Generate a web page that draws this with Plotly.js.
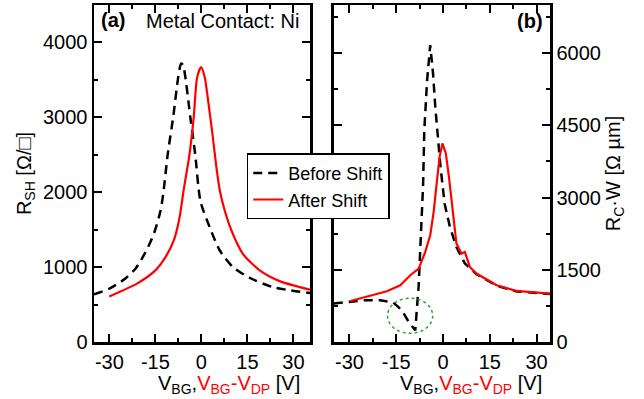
<!DOCTYPE html>
<html>
<head>
<meta charset="utf-8">
<script src="https://cdn.plot.ly/plotly-3.0.1.min.js"></script>
<style>html,body{margin:0;padding:0;background:#fff}#chart{width:644px;height:399px}</style>
</head>
<body>
<div id="chart"></div>
<script>
// Panel (a): sheet resistance R_SH
const aBeforeX = [-35, -30, -25, -21.5, -18.2, -15.5, -13.3, -12.3, -11.0, -9.2, -7.5, -6.6, -6.0, -3.6, -2.0, -0.3, 2.7, 6.0, 10.3, 15.7, 23.3, 35.4];
const aBeforeY = [636, 712, 840, 978, 1200, 1445, 1756, 2023, 2500, 3000, 3550, 3720, 3700, 3000, 2500, 1880, 1533, 1222, 1000, 858, 733, 653];
const aAfterX = [-30, -21, -15, -11.7, -9.0, -7.1, -5.8, -3.9, -2.5, -1.4, -0.1, 1.1, 2.2, 3.6, 4.9, 6.0, 7.6, 9.8, 13.5, 19.0, 25.5, 35.4];
const aAfterY = [609, 779, 956, 1133, 1356, 1667, 2023, 2500, 3000, 3530, 3670, 3533, 3222, 2778, 2333, 2023, 1756, 1489, 1178, 956, 813, 698];

// Panel (b): contact resistance R_C·W
const bBeforeX = [-35, -30.9, -25.5, -20.1, -15.9, -13.2, -11.0, -8.9, -8.4, -7.8, -7.1, -6.4, -6.0, -5.1, -4.1, -3.2, -2.5, -1.6, -0.9, 0.5, 2.2, 4.3, 7.0, 10.7, 17.2, 23.6, 34.3];
const bBeforeY = [798, 832, 867, 867, 819, 659, 416, 243, 624, 1179, 2218, 3240, 4401, 5441, 6168, 5580, 4900, 4200, 3700, 2877, 2391, 1975, 1630, 1410, 1170, 1050, 995];
const bAfterX = [-30, -24.4, -18, -13.7, -10.5, -7.8, -5.7, -4.1, -3.0, -2.1, -1.1, -0.2, 0.9, 1.9, 3.0, 4.3, 5.9, 7.0, 8.6, 10.7, 17.2, 23.6, 34.3];
const bAfterY = [846, 936, 1054, 1179, 1387, 1526, 1871, 2218, 2703, 3258, 3846, 4125, 3916, 3430, 2807, 2046, 1838, 1871, 1559, 1422, 1179, 1060, 1006];

// Tick labels
const xTickVals = [-30, -15, 0, 15, 30];
const xTickText = ["-30", "-15", "0", "15", "30"];
const yaTickVals = [0, 1000, 2000, 3000, 4000];
const yaTickText = ["0", "1000", "2000", "3000", "4000"];
const ybTickVals = [0, 1500, 3000, 4500, 6000];
const ybTickText = ["0", "1500", "3000", "4500", "6000"];

// Highlight ellipse (panel b) in data units
const ellipseX = [-17.8, -3.3];
const ellipseY = [180, 910];

const FONT = "Liberation Sans, Arial, Helvetica, sans-serif";
const RED = "#ff0000";
const FS = 20;

const blackLine = {color: "#000000", width: 2.5, dash: "9px,6px"};
const redLine = {color: RED, width: 2.2};

const traces = [
  {x: aBeforeX, y: aBeforeY, xaxis: "x", yaxis: "y", mode: "lines", line: Object.assign({shape: "spline", smoothing: 0.7}, blackLine), name: "Before Shift", showlegend: true},
  {x: aAfterX, y: aAfterY, xaxis: "x", yaxis: "y", mode: "lines", line: Object.assign({shape: "spline", smoothing: 0.7}, redLine), name: "After Shift", showlegend: true},
  {x: bBeforeX, y: bBeforeY, xaxis: "x2", yaxis: "y2", mode: "lines", line: blackLine, name: "Before Shift", showlegend: false},
  {x: bAfterX, y: bAfterY, xaxis: "x2", yaxis: "y2", mode: "lines", line: redLine, name: "After Shift", showlegend: false}
];

function axisBase() {
  return {
    showline: true, linecolor: "#000", linewidth: 2.5, mirror: "allticks",
    ticks: "inside", ticklen: 8, tickwidth: 2, tickcolor: "#000",
    showgrid: false, zeroline: false,
    tickfont: {family: FONT, size: FS, color: "#000"},
    tickmode: "array"
  };
}
function minor(d) {
  return {tickmode: "linear", tick0: 0, dtick: d, ticks: "inside", ticklen: 4, tickwidth: 2, tickcolor: "#000"};
}

const xa = Object.assign(axisBase(), {domain: [0, 0.4737], range: [-35, 35.4], tickvals: xTickVals, ticktext: xTickText, anchor: "y", minor: minor(7.5)});
const xb = Object.assign(axisBase(), {domain: [0.526, 1], range: [-35, 34.3], tickvals: xTickVals, ticktext: xTickText, anchor: "y2", minor: minor(7.5)});
const ya = Object.assign(axisBase(), {range: [0, 4500], tickvals: yaTickVals, ticktext: yaTickText, anchor: "x", minor: minor(500),
  title: {text: "R<sub>SH</sub> [Ω/□]", font: {family: FONT, size: FS, color: "#000"}, standoff: 6}});
const yb = Object.assign(axisBase(), {range: [0, 7000], tickvals: ybTickVals, ticktext: ybTickText, anchor: "x2", side: "right", minor: minor(750),
  title: {text: "R<sub>C</sub>·W [Ω µm]", font: {family: FONT, size: FS, color: "#000"}, standoff: 6}});

const xTitle = 'V<sub>BG</sub>,<span style="color:' + RED + '">V<sub>BG</sub>-V<sub>DP</sub></span> [V]';

const layout = {
  width: 644, height: 399,
  margin: {l: 94, r: 94, t: 5, b: 57, pad: 0},
  paper_bgcolor: "#fff", plot_bgcolor: "#fff",
  font: {family: FONT, size: FS, color: "#000"},
  xaxis: xa, yaxis: ya, xaxis2: xb, yaxis2: yb,
  showlegend: true,
  legend: {x: 0.335, y: 0.5596, xanchor: "left", yanchor: "top", bgcolor: "#fff", bordercolor: "#000", borderwidth: 1.5,
    font: {family: FONT, size: 18, color: "#000"}, traceorder: "normal", itemwidth: 30, tracegroupgap: 0},
  shapes: [
    {type: "circle", xref: "x2", yref: "y2", x0: ellipseX[0], x1: ellipseX[1], y0: ellipseY[0], y1: ellipseY[1],
      line: {color: "#2ca02c", width: 1.5, dash: "dot"}}
  ],
  annotations: [
    {text: "<b>(a)</b>", xref: "paper", yref: "paper", x: 0.01, y: 0.995, xanchor: "left", yanchor: "top", showarrow: false, font: {family: FONT, size: FS, color: "#000"}},
    {text: "Metal Contact: Ni", xref: "paper", yref: "paper", x: 0.455, y: 0.99, xanchor: "right", yanchor: "top", showarrow: false, font: {family: FONT, size: FS, color: "#000"}},
    {text: "<b>(b)</b>", xref: "paper", yref: "paper", x: 0.99, y: 0.99, xanchor: "right", yanchor: "top", showarrow: false, font: {family: FONT, size: FS, color: "#000"}},
    {text: xTitle, xref: "paper", yref: "paper", x: 0.295, y: -0.082, xanchor: "center", yanchor: "top", showarrow: false, font: {family: FONT, size: FS, color: "#000"}},
    {text: xTitle, xref: "paper", yref: "paper", x: 0.826, y: -0.082, xanchor: "center", yanchor: "top", showarrow: false, font: {family: FONT, size: FS, color: "#000"}}
  ]
};

Plotly.newPlot("chart", traces, layout, {displayModeBar: false, staticPlot: true});
</script>
</body>
</html>
